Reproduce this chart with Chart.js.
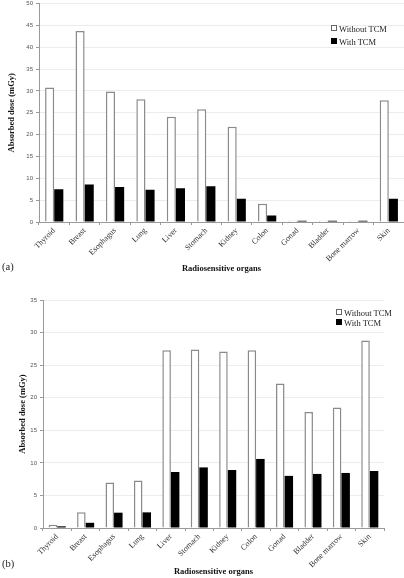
<!DOCTYPE html>
<html lang="en">
<head>
<meta charset="UTF-8">
<title>Absorbed dose by organ</title>
<script src="https://cdn.jsdelivr.net/npm/chart.js"></script>
<style>
  body { margin: 0; background: #fff; }
  #wrap { position: relative; width: 404px; height: 578px; overflow: hidden; font-family: "Liberation Serif", serif; }
  canvas { position: absolute; left: 0; }
  .panel { position: absolute; font-size: 10.5px; color: #222; }
  .legend { position: absolute; font-size: 8.5px; color: #222; line-height: 13px; }
  .key { display: inline-block; width: 4px; height: 4px; margin-right: 2px; vertical-align: 1px; }
  .key.open { border: 1px solid #666; background: #fff; }
  .key.solid { border: 1px solid #000; background: #000; }
</style>
</head>
<body>
<div id="wrap">
  <canvas id="chartA" width="404" height="290" style="top:-3px"></canvas>
  <canvas id="chartB" width="404" height="288" style="top:290px"></canvas>
  <div class="panel" style="left:2px; top:261px">(a)</div>
  <div class="panel" style="left:2px; top:558px">(b)</div>
  <div class="legend" style="left:331px; top:23px">
    <div><span class="key open"></span>Without TCM</div>
    <div><span class="key solid"></span>With TCM</div>
  </div>
  <div class="legend" style="left:336px; top:308px; line-height:10px">
    <div><span class="key open"></span>Without TCM</div>
    <div><span class="key solid"></span>With TCM</div>
  </div>
</div>

<script>
const organs = ['Thyroid', 'Breast', 'Esophagus', 'Lung', 'Liver', 'Stomach', 'Kidney',
                'Colon', 'Gonad', 'Bladder', 'Bone marrow', 'Skin'];

// (a)
const withoutTcmA = [30.8, 43.7, 29.9, 28.1, 24.1, 25.8, 21.8, 4.2, 0.3, 0.3, 0.3, 27.9];
const withTcmA    = [7.5, 8.6, 8.0, 7.4, 7.7, 8.2, 5.3, 1.5, 0.3, 0.3, 0.3, 5.3];

// (b)
const withoutTcmB = [0.5, 2.4, 7.0, 7.3, 27.3, 27.4, 27.1, 27.3, 22.2, 17.8, 18.5, 28.8];
const withTcmB    = [0.26, 0.8, 2.35, 2.4, 8.6, 9.3, 8.9, 10.6, 8.0, 8.3, 8.45, 8.75];

const yMaxA = 50, yMaxB = 35;

function makeChart(id, without, withT, yMax, cfg) {
  return new Chart(document.getElementById(id), {
    type: 'bar',
    data: {
      labels: organs,
      datasets: [
        { label: 'Without TCM', data: without, backgroundColor: '#fff', borderColor: '#8a8a8a', borderWidth: 1.5,
          barPercentage: 1, categoryPercentage: 0.6 },
        { label: 'With TCM', data: withT, backgroundColor: '#000', borderColor: '#000', borderWidth: 0,
          barPercentage: 1, categoryPercentage: 0.6 }
      ]
    },
    options: {
      responsive: false,
      animation: false,
      layout: { padding: cfg.padding },
      plugins: { legend: { display: false }, tooltip: { enabled: false } },
      scales: {
        x: {
          afterFit: s => { s.height = cfg.xHeight; },
          grid: { drawOnChartArea: false, offset: true, tickLength: 3, tickColor: '#999' },
          border: { color: '#999' },
          ticks: { minRotation: 45, maxRotation: 45, autoSkip: false, padding: 1, color: '#333',
                   font: { family: 'Liberation Serif', size: 8 } },
          title: { display: true, text: 'Radiosensitive organs', color: '#111', padding: 0,
                   font: { family: 'Liberation Serif', size: 8.5, weight: 'bold' } }
        },
        y: {
          min: 0, max: yMax,
          afterFit: s => { s.width = cfg.yWidth; },
          grid: { color: '#ececec', tickLength: 3, tickColor: '#999' },
          border: { color: '#999' },
          ticks: { stepSize: 5, padding: 3, color: '#555', font: { family: 'Liberation Sans', size: 6 } },
          title: { display: true, text: 'Absorbed dose (mGy)', color: '#111', padding: { top: cfg.yTitlePad },
                   font: { family: 'Liberation Serif', size: 8.5, weight: 'bold' } }
        }
      }
    }
  });
}

makeChart('chartA', withoutTcmA, withTcmA, yMaxA,
  { padding: { top: 0, right: 0, bottom: 13, left: 0 }, xHeight: 52, yWidth: 39, yTitlePad: 6.5 });
makeChart('chartB', withoutTcmB, withTcmB, yMaxB,
  { padding: { top: 10, right: 20, bottom: 1, left: 0 }, xHeight: 49, yWidth: 43, yTitlePad: 17.5 });
</script>
</body>
</html>
